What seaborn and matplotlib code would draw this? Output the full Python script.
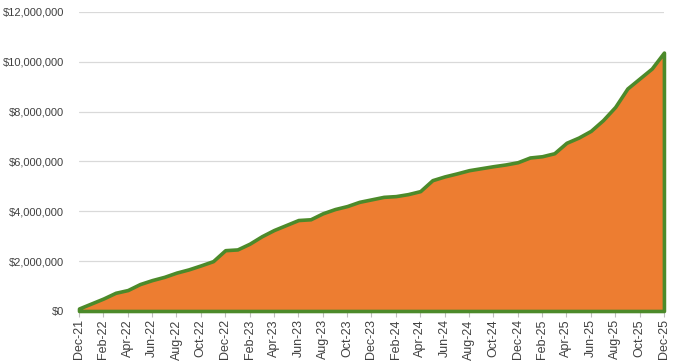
import pandas as pd
import matplotlib
matplotlib.use("Agg")
import matplotlib.pyplot as plt
import seaborn as sns
from matplotlib.ticker import FuncFormatter

# Monthly cumulative value, Dec-21 .. Dec-25
months = pd.date_range("2021-12-01", "2025-12-01", freq="MS")
month_labels = [m.strftime("%b-%y") for m in months]
values = [
    0.10, 0.30, 0.50, 0.73, 0.84, 1.08, 1.24, 1.37, 1.54, 1.67, 1.83, 2.00,
    2.44, 2.47, 2.70, 3.00, 3.25, 3.45, 3.65, 3.68, 3.92, 4.09, 4.21, 4.38,
    4.48, 4.58, 4.61, 4.69, 4.81, 5.25, 5.40, 5.52, 5.65, 5.73, 5.81, 5.88,
    5.97, 6.16, 6.21, 6.33, 6.75, 6.96, 7.23, 7.66, 8.19, 8.93, 9.33, 9.73,
    10.37,
]
values = [v * 1_000_000 for v in values]

df = pd.DataFrame({"idx": range(len(months)), "month": month_labels, "value": values})

sns.set_style("white")
plt.rcParams["font.family"] = ["Liberation Sans", "DejaVu Sans"]

fig = plt.figure(figsize=(6.77, 3.63), dpi=100)
ax = fig.add_axes([0.1167, 0.1433, 0.864, 0.8237])

ax.fill_between(df["idx"], df["value"], 0, facecolor="#ED7D31",
                edgecolor="#4C8A2A", linewidth=2.6, joinstyle="round",
                clip_on=False, zorder=3)

ax.set_xlim(0, len(months) - 1)
ax.set_ylim(0, 12_000_000)
ax.set_yticks(range(0, 12_000_001, 2_000_000))
ax.yaxis.set_major_formatter(FuncFormatter(lambda x, p: f"${x:,.0f}"))
ax.grid(axis="y", color="#d9d9d9", linewidth=0.9, zorder=0)
ax.set_axisbelow(True)

ticks = df["idx"][::2]
ax.set_xticks(ticks)
ax.set_xticklabels(df["month"][::2], rotation=90, fontsize=9,
                   color="#404040")
ax.tick_params(axis="y", labelsize=8, labelcolor="#404040", length=0, pad=11)
ax.tick_params(axis="x", length=4, color="#bfbfbf", pad=2, bottom=True)

for s in ["top", "right", "left"]:
    ax.spines[s].set_visible(False)
ax.spines["bottom"].set_color("#bfbfbf")

ax.set_xlabel("")
ax.set_ylabel("")

fig.savefig("out.png", dpi=100)
